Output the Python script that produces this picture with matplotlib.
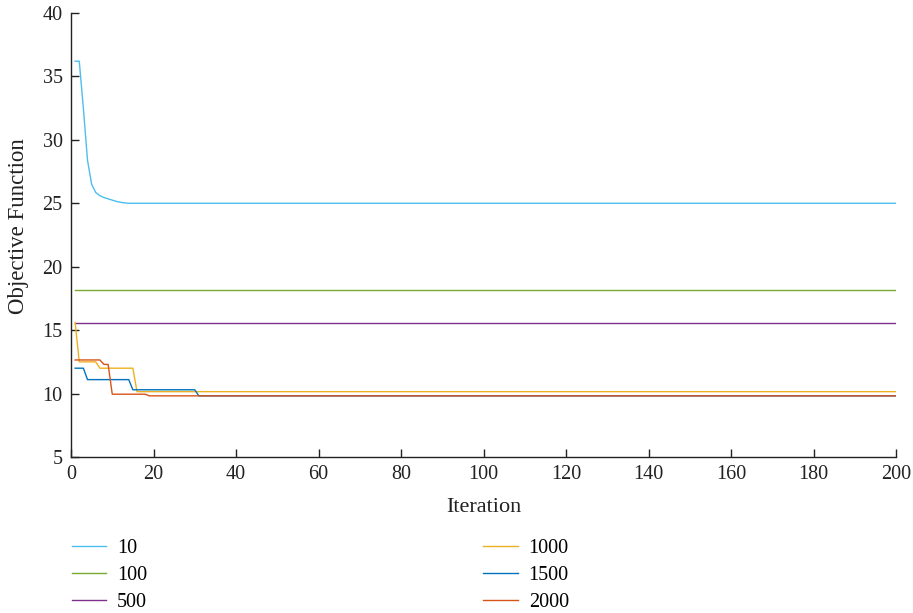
import matplotlib
matplotlib.use("Agg")
import matplotlib.pyplot as plt

plt.rcParams['font.family'] = ['Liberation Serif', 'DejaVu Serif']

labels = ["10", "100", "500", "1000", "1500", "2000"]
colors = ["#4DBEEE", "#77AC30", "#7E2F8E", "#EDB120", "#0072BD", "#D95319"]

x10 = [1, 2, 3, 4, 5, 6, 7, 8, 9, 10, 11, 12, 13, 14, 200]
y10 = [36.2, 36.2, 32.5, 28.4, 26.5, 25.85, 25.6, 25.45, 25.35, 25.25, 25.15, 25.08, 25.03, 25.0, 25.0]
x100 = [1, 200]
y100 = [18.15, 18.15]
x500 = [1, 200]
y500 = [15.6, 15.6]
x1000 = [1, 2, 6, 7, 15, 16, 200]
y1000 = [15.6, 12.5, 12.5, 12.0, 12.0, 10.15, 10.15]
x1500 = [1, 3, 4, 14, 15, 30, 31, 200]
y1500 = [12.0, 12.0, 11.1, 11.1, 10.3, 10.3, 9.82, 9.82]
x2000 = [1, 7, 8, 9, 10, 18, 19, 200]
y2000 = [12.65, 12.65, 12.3, 12.3, 9.95, 9.95, 9.82, 9.82]

xs = [x10, x100, x500, x1000, x1500, x2000]
ys = [y10, y100, y500, y1000, y1500, y2000]

fig = plt.figure(figsize=(9.13, 6.13), dpi=100)
ax = fig.add_axes([71/913, 1-457/613, (896-71)/913, (457-13)/613])

handles = []
for x, y, c, l in zip(xs, ys, colors, labels):
    h, = ax.plot(x, y, color=c, lw=1.0, label=l)
    handles.append(h)

ax.set_xlim(0, 200)
ax.set_ylim(5, 40)
ax.set_xticks(range(0, 201, 20))
ax.set_yticks(range(5, 41, 5))
for s in ["top", "right"]:
    ax.spines[s].set_visible(False)
for s in ["left", "bottom"]:
    ax.spines[s].set_linewidth(1.0)
    ax.spines[s].set_color("#222222")
ax.tick_params(direction="in", length=6, labelsize=14.5, colors="#222222", width=1.0, pad=6)
ax.set_xlabel("Iteration", fontsize=16, color="#222222", labelpad=10)
ax.set_ylabel("Objective Function", fontsize=16.5, color="#222222")
ax.yaxis.set_label_coords(-42/825, 0.52)

kw = dict(frameon=False, fontsize=14.5, handlelength=1.72, handletextpad=0.55,
          labelspacing=0.4, borderaxespad=0, borderpad=0)
leg1 = fig.legend(handles[:3], labels[:3], loc="upper left",
                  bbox_to_anchor=(71.5/913, 1-539/613), **kw)
leg2 = fig.legend(handles[3:], labels[3:], loc="upper left",
                  bbox_to_anchor=(483/913, 1-539/613), **kw)

fig.savefig("out.png", dpi=100)
